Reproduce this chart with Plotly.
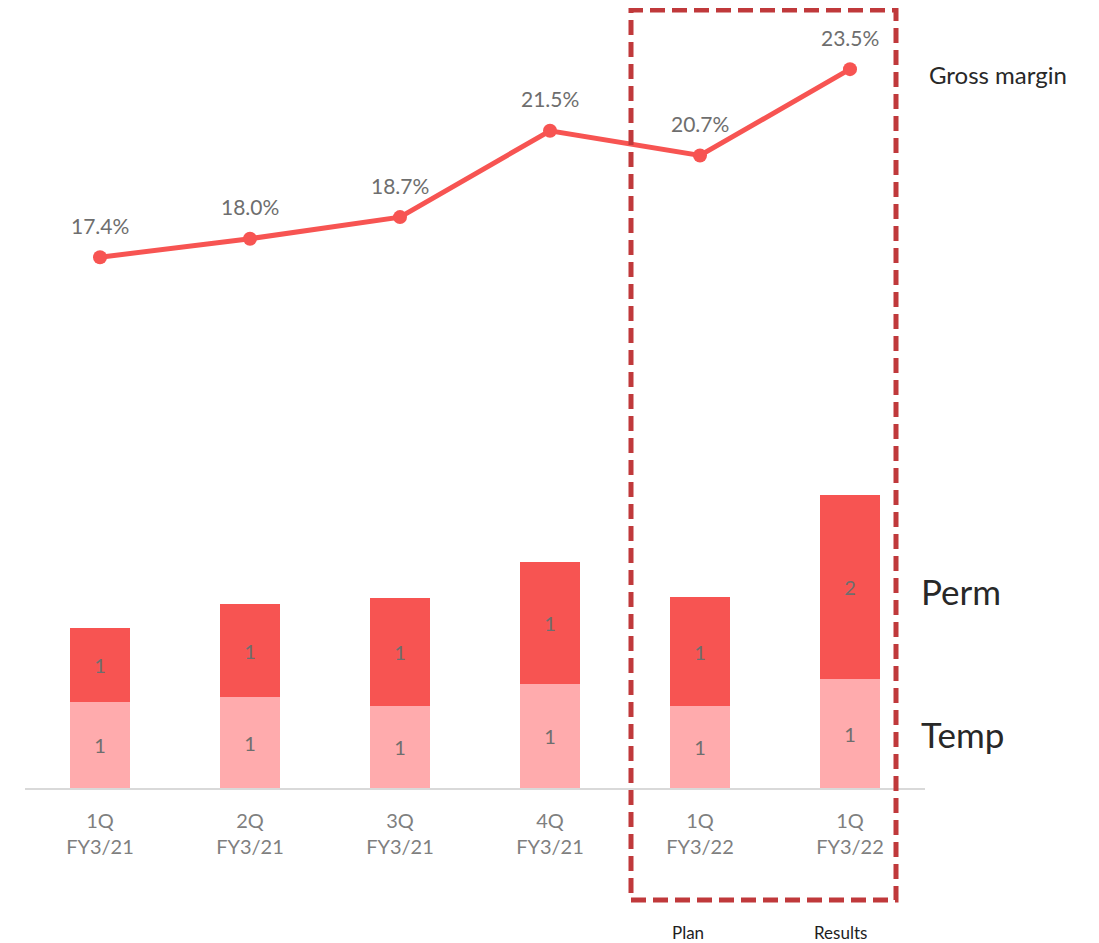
import plotly.graph_objects as go

quarters = ['1Q<br>FY3/21', '2Q<br>FY3/21', '3Q<br>FY3/21', '4Q<br>FY3/21', '1Q<br>FY3/22', '1Q<br>FY3/22']
temp = [0.86, 0.91, 0.82, 1.04, 0.82, 1.09]
perm = [0.74, 0.93, 1.08, 1.22, 1.09, 1.84]
gross_margin = [17.4, 18.0, 18.7, 21.5, 20.7, 23.5]

x_pos = list(range(len(quarters)))

FONT = 'Lato'
PERM_RED = 'rgb(247, 84, 82)'
TEMP_PINK = 'rgb(255, 171, 173)'
LABEL_GRAY = 'rgb(110, 110, 110)'
DARK = 'rgb(40, 40, 40)'

fig = go.Figure()

fig.add_trace(go.Bar(
    x = x_pos,
    y = temp,
    name = 'Temp',
    marker = dict(color = TEMP_PINK, line = dict(width = 0)),
    texttemplate = '%{y:.0f}',
    textposition = 'inside',
    insidetextanchor = 'middle',
    textfont = dict(family = FONT, size = 20, color = LABEL_GRAY),
    width = 0.4))

fig.add_trace(go.Bar(
    x = x_pos,
    y = perm,
    name = 'Perm',
    marker = dict(color = PERM_RED, line = dict(width = 0)),
    texttemplate = '%{y:.0f}',
    textposition = 'inside',
    insidetextanchor = 'middle',
    textfont = dict(family = FONT, size = 20, color = LABEL_GRAY),
    width = 0.4))

fig.add_trace(go.Scatter(
    x = x_pos,
    y = gross_margin,
    yaxis = 'y2',
    mode = 'lines+markers',
    line = dict(color = PERM_RED, width = 5),
    marker = dict(color = PERM_RED, size = 14),
    name = 'Gross margin'))

# percentage labels above the line points
for xi, gm in zip(x_pos, gross_margin):
    fig.add_annotation(
        x = xi, y = gm, xref = 'x', yref = 'y2',
        text = f'{gm:.1f}%', showarrow = False,
        yshift = 32,
        font = dict(family = FONT, size = 21, color = LABEL_GRAY))

# series labels on the right
fig.add_annotation(text = 'Gross margin', xref = 'paper', yref = 'paper',
                   x = (927 - 25) / 900, y = (788 - 74) / 758, xanchor = 'left', yanchor = 'middle',
                   showarrow = False, font = dict(family = FONT, size = 24, color = DARK))
fig.add_annotation(text = 'Perm', xref = 'paper', yref = 'paper',
                   x = (919 - 25) / 900, y = (788 - 591) / 758, xanchor = 'left', yanchor = 'middle',
                   showarrow = False, font = dict(family = FONT, size = 35, color = DARK))
fig.add_annotation(text = 'Temp', xref = 'paper', yref = 'paper',
                   x = (919 - 25) / 900, y = (788 - 734) / 758, xanchor = 'left', yanchor = 'middle',
                   showarrow = False, font = dict(family = FONT, size = 35, color = DARK))

# Plan / Results labels under the highlight box
fig.add_annotation(text = 'Plan', xref = 'paper', yref = 'paper',
                   x = (688 - 25) / 900, y = (788 - 932) / 758, xanchor = 'center', yanchor = 'middle',
                   showarrow = False, font = dict(family = FONT, size = 17, color = 'rgb(30, 30, 30)'))
fig.add_annotation(text = 'Results', xref = 'paper', yref = 'paper',
                   x = (840 - 25) / 900, y = (788 - 932) / 758, xanchor = 'center', yanchor = 'middle',
                   showarrow = False, font = dict(family = FONT, size = 17, color = 'rgb(30, 30, 30)'))

# dashed highlight box
fig.add_shape(
    type = 'rect', xref = 'paper', yref = 'paper',
    x0 = (631 - 25) / 900, x1 = (896 - 25) / 900,
    y0 = (788 - 900) / 758, y1 = (788 - 10) / 758,
    line = dict(color = 'rgb(192, 57, 59)', width = 5, dash = '15px,7px'),
    fillcolor = 'rgba(0,0,0,0)')

# page body adds an 8px offset, so the figure is 8px smaller
fig.update_layout(
    barmode = 'stack',
    width = 1091,
    height = 935,
    margin = dict(l = 17, r = 174, t = 22, b = 155),
    plot_bgcolor = 'white',
    paper_bgcolor = 'white',
    showlegend = False,
    font = dict(family = FONT, color = LABEL_GRAY),
    xaxis = dict(
        tickvals = x_pos,
        ticktext = quarters,
        range = [-0.5, 5.5],
        showgrid = False,
        zeroline = False,
        showline = True,
        linecolor = 'rgb(217, 217, 217)',
        linewidth = 2,
        ticks = '',
        ticklabelstandoff = 14,
        tickfont = dict(family = FONT, size = 20, color = 'rgb(127, 127, 127)')),
    yaxis = dict(
        range = [0, 7.58],
        visible = False,
        showgrid = False,
        zeroline = False),
    yaxis2 = dict(
        range = [0.18, 24.77],
        overlaying = 'y',
        visible = False,
        showgrid = False,
        zeroline = False))

fig.write_html("out.html")
